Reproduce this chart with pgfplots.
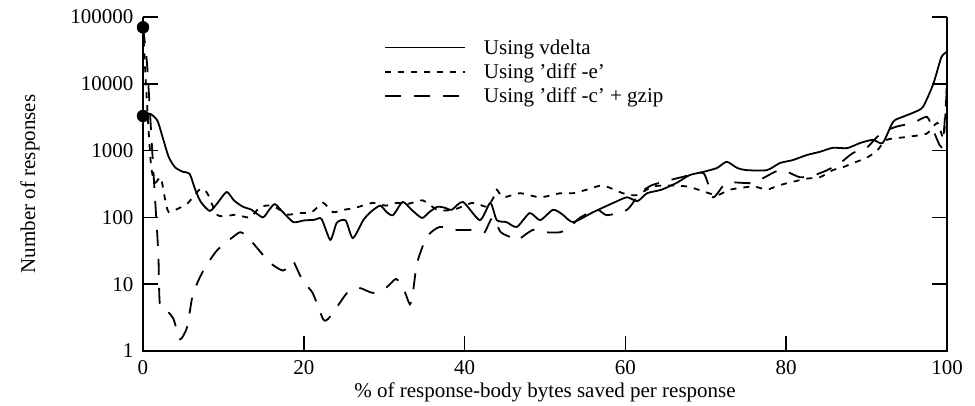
\documentclass[border=0pt]{standalone}
\usepackage{fontspec}
\setmainfont{Liberation Serif}
\usepackage{pgfplots}
\pgfplotsset{compat=1.18}
\newcommand{\chartfont}{\fontsize{21}{24}\selectfont}
\begin{document}
\begin{tikzpicture}[x=1pt,y=1pt]
\begin{axis}[
  at={(0pt,0pt)}, anchor=south west,
  scale only axis, width=804pt, height=334pt,
  ymode=log, log basis y=10,
  xmin=0, xmax=100, ymin=1, ymax=100000,
  xtick={0,20,40,60,80,100},
  ytick={1,10,100,1000,10000,100000},
  yticklabels={1,10,100,1000,10000,100000},
  xtick pos=bottom, ytick pos=both,
  minor tick num=0, yminorticks=false,
  tick align=inside, major tick length=15pt,
  tick style={black, line width=1.5pt},
  axis line style={draw=none},
  /pgf/number format/assume math mode=true,
  tick label style={font=\chartfont},
  xticklabel style={yshift=-8pt, inner sep=1pt},
  yticklabel style={xshift=-6pt},
  label style={font=\chartfont},
  xlabel={\% of response-body bytes saved per response},
  xlabel style={at={(axis description cs:0.5,0)}, anchor=center, yshift=-41pt, inner sep=1pt},
  ylabel={Number of responses},
  ylabel style={at={(axis description cs:-0.1405,0.5)}, anchor=center},
  clip=false,
  legend style={draw=none, fill=none, at={(0.296,0.945)}, anchor=north west, font=\chartfont, row sep=4pt, cells={anchor=west},
    /tikz/every odd column/.append style={column sep=16pt}},
  legend image code/.code={\draw[#1] (0pt,0pt) -- (80pt,0pt);},
]
\addplot[black, line width=1.8pt, smooth, tension=0.4] coordinates {
(0,3300) (0.5,3600) (1,3500) (1.8,2800) (2.5,1500) (3.2,800) (4,560) (5,480) (5.8,450) (6.5,260) (7.2,170) (8.3,125) (9.2,160) (10.4,240) (11.3,180) (12.4,145) (13.5,130) (14.9,100) (15.7,130) (16.4,158) (17.4,120) (18.7,85) (20,90) (21.3,92) (22.2,95) (23.3,46) (24.1,83) (25.2,90) (26.1,49) (27.4,91) (28.3,120) (29.5,150) (30.3,120) (31.1,108) (32.3,170) (33.4,130) (34.7,98) (35.6,120) (36.6,144) (37.5,140) (38.4,130) (39.8,170) (41.9,91) (43.2,165) (44,91) (45.2,85) (46.5,72) (48.1,116) (49.4,91) (51,130) (52.2,110) (53.5,85) (56,120) (58.5,165) (60.2,200) (61.5,175) (62.7,230) (64.5,260) (66.4,330) (68,430) (69.7,480) (71.4,550) (72.6,680) (73.9,550) (75.1,510) (77.6,510) (79.2,650) (80.8,720) (82.6,860) (84.2,960) (85.8,1100) (87.6,1090) (89.2,1300) (90.8,1450) (92,1300) (93.3,2700) (94.5,3200) (95.8,3700) (97,4500) (98.3,10000) (99.3,25000) (100,30000)
};
\addlegendentry{Using vdelta}
\addplot[black, line width=1.8pt, dash pattern=on 6pt off 7pt, smooth, tension=0.4] coordinates {
(0,70000) (0.5,5000) (1,600) (1.5,330) (2.2,400) (2.7,200) (3.2,120) (4.6,140) (5.5,160) (6.2,200) (7.2,270) (8,230) (9.2,110) (10.5,105) (11.5,110) (13.3,100) (14.6,144) (16,150) (17,130) (18,110) (19.5,116) (21,120) (22.4,165) (23.6,120) (25,130) (26.5,140) (28.6,165) (30.2,150) (31.6,165) (33,160) (34.8,180) (36.6,130) (38.6,130) (41,165) (42.8,144) (43.6,200) (44,260) (44.8,200) (46.9,230) (49.4,200) (51.9,230) (53.5,230) (55.2,260) (57.2,300) (59.7,230) (61.4,215) (63.4,290) (65.5,300) (67.7,290) (69.5,250) (71.4,215) (73,260) (75.9,290) (77.6,260) (79,300) (80.8,340) (82.5,380) (84.2,400) (85.8,510) (87,560) (88.3,650) (90,780) (91.3,1000) (92.5,1450) (95,1600) (97.5,1800) (98.8,2600) (99.6,1600) (100,11000)
};
\addlegendentry{Using 'diff -e'}
\addplot[black, line width=1.8pt, dash pattern=on 16pt off 13pt, smooth, tension=0.4] coordinates {
(0,70000) (0.5,20000) (1,2000) (1.4,300) (1.9,30) (2.1,5) (3,4) (3.8,3) (4.6,1.5) (5.5,2.3) (6.2,7) (7.5,16) (9.2,32) (11.2,51) (12.1,60) (13,52) (13.7,41) (15.8,21) (17.4,16) (18.3,20) (18.7,22) (19.9,11) (21.1,7.4) (22.4,3) (23,3) (24.1,4.5) (25.4,7.4) (26.9,8.8) (28.6,7.4) (30.3,9) (31.5,12) (32.5,8) (33.2,5) (33.6,8) (34.1,21) (35.3,51) (36.9,72) (39,65) (41.9,65) (42.5,60) (43.5,100) (44.5,60) (46,49) (46.5,45) (48.5,65) (50,60) (51.9,60) (53.1,72) (54.4,100) (56.5,130) (57.7,108) (60.2,130) (61.8,230) (63.2,300) (64.7,340) (67,400) (69.7,460) (70.9,200) (72.6,330) (75.9,330) (79.2,510) (81.7,400) (83.5,430) (85.1,510) (86.7,650) (88.3,920) (90,1100) (91.3,1600) (92.5,2000) (93.8,2300) (95.8,2600) (97.5,3200) (98.3,2000) (99.1,1200) (99.5,1300) (100,9000)
};
\addlegendentry{Using 'diff -c' + gzip}
\addplot[only marks, mark=*, mark size=6pt, black, forget plot] coordinates {(0,70000) (0,3300)};
\draw[black, line width=2pt] (rel axis cs:0,1) -- (rel axis cs:0,0) -- (rel axis cs:1,0) -- (rel axis cs:1,1);
\end{axis}
\pgfresetboundingbox
\path (-143pt,-55pt) rectangle (832pt,351pt);
\end{tikzpicture}
\end{document}
